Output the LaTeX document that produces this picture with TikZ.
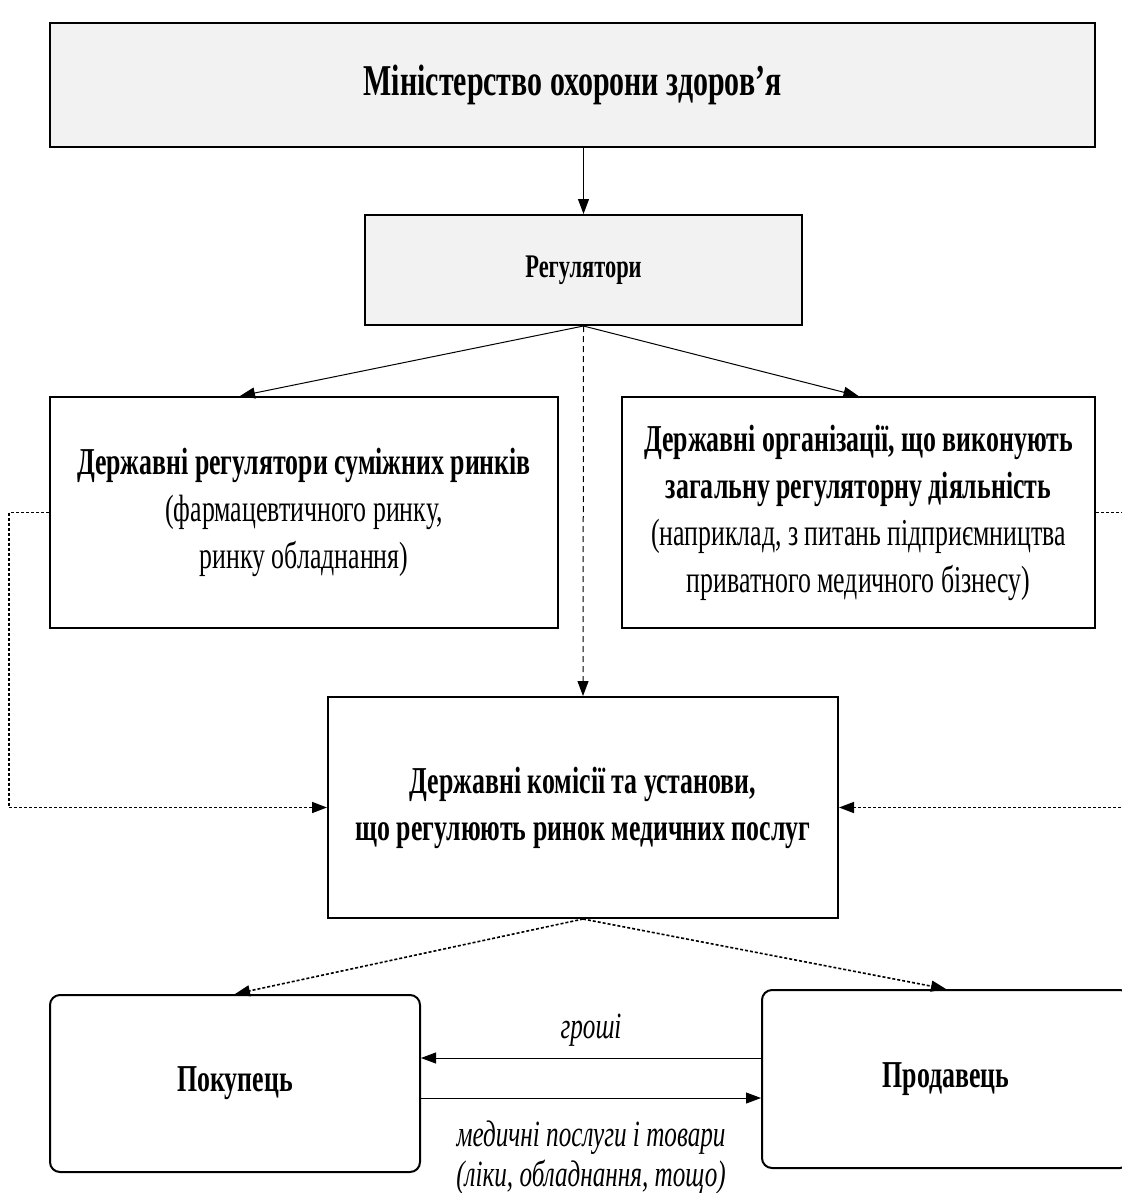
\documentclass[tikz,border=0pt]{standalone}
\usepackage{fontspec}
\setmainfont{Liberation Serif}[FakeStretch=0.68]
\usepackage{xcolor}
\definecolor{boxgray}{HTML}{F2F2F2}
\usetikzlibrary{arrows.meta, positioning}

\begin{document}
\begin{tikzpicture}[x=0.5pt, y=-0.5pt,
    box/.style={draw, line width=1pt, minimum width=254pt, minimum height=115.5pt,
                align=center, font=\fontsize{19}{23.5}\selectfont, inner sep=2pt},
    roundbox/.style={box, rounded corners=5pt, minimum width=185pt, minimum height=88.5pt},
    arrow/.style={-{Triangle[length=7.5pt, width=5.5pt]}, line width=0.5pt},
    darrow/.style={arrow, dash pattern=on 3pt off 2pt},
    dotarrow/.style={arrow, line width=0.8pt, dash pattern=on 1.5pt off 1pt},
    lbl/.style={font=\fontsize{18.5}{20}\selectfont\itshape, align=center}
  ]
    \useasboundingbox (0,0) rectangle (1122,1193);

    % Ministry
    \node[box, fill=boxgray, minimum width=522.5pt, minimum height=61.5pt] (moz) at (572.5,85)
      {\fontsize{22}{24}\selectfont\bfseries Міністерство охорони здоров’я};

    % Regulators
    \node[box, fill=boxgray, minimum width=218.5pt, minimum height=55pt] (reg) at (583.5,270)
      {\fontsize{16.5}{18}\selectfont\bfseries Регулятори};

    % Second level
    \node[box] (adj) at (304,512.5)
      {\textbf{Державні регулятори суміжних ринків}\\(фармацевтичного ринку,\\ринку обладнання)};
    \node[box, minimum width=236.5pt] (gen) at (858.5,512.5)
      {\textbf{Державні організації, що виконують}\\\textbf{загальну регуляторну діяльність}\\(наприклад, з питань підприємництва\\приватного медичного бізнесу)};

    % Commissions
    \node[box, minimum width=255pt, minimum height=110.5pt] (com) at (583,807.5)
      {\bfseries Державні комісії та установи,\\\bfseries що регулюють ринок медичних послуг};

    % Market
    \node[roundbox] (buyer) at (235,1083.5) {\bfseries Покупець};
    \node[roundbox, minimum width=184pt, minimum height=89pt] (seller) at (946,1079)
      {\bfseries Продавець};

    % Arrows
    \draw[arrow] (reg.north |- moz.south) -- (reg.north);
    \draw[arrow] (reg.south) -- ([xshift=-32pt]adj.north);
    \draw[arrow] (reg.south) -- (gen.north);
    \draw[darrow] (reg.south) -- (com.north);
    \draw[dotarrow] (adj.west) -- ++(-20pt,0) |- (com.west);
    \draw[dotarrow] (gen.east) -- ++(20pt,0) |- (com.east);
    \draw[dotarrow] (com.south) -- (buyer.north);
    \draw[dotarrow] (com.south) -- (seller.north);

    % Exchange
    \draw[arrow] ([yshift=10.5pt]seller.west) -- ([yshift=10.5pt]seller.west -| buyer.east)
      node[lbl, midway, above=2pt] (money) {гроші};
    \draw[arrow] ([yshift=-7.25pt]buyer.east) -- ([yshift=-7.25pt]buyer.east -| seller.west)
      node[lbl, midway, below=8pt] (goods) {медичні послуги і товари\\(ліки, обладнання, тощо)};
  \end{tikzpicture}
\end{document}
